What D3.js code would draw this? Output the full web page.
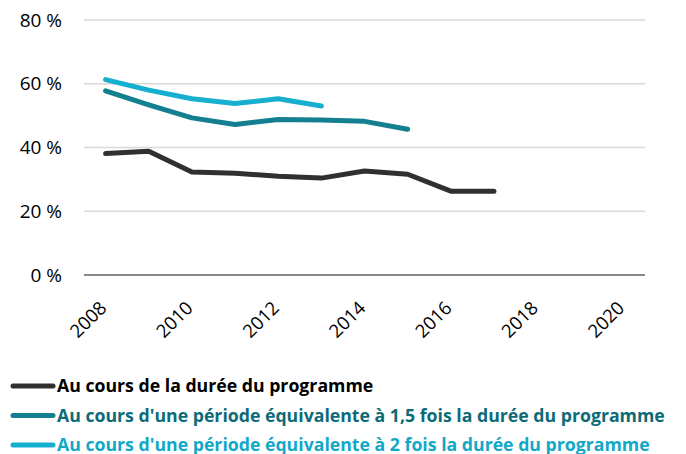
<!DOCTYPE html>
<html>
<head>
<meta charset="utf-8">
<script src="https://cdn.jsdelivr.net/npm/d3@7"></script>
<style>
body { margin: 0; background: #fff; }
svg text { font-family: "Open Sans", "Noto Sans", sans-serif; }
</style>
</head>
<body>
<svg id="chart" width="686" height="454"></svg>
<script>
// years on the category axis
var years = [2008, 2009, 2010, 2011, 2012, 2013, 2014, 2015, 2016, 2017, 2018, 2019, 2020];
var yTicks = [0, 20, 40, 60, 80];

// one array per series (percent), null = no value
var dureeProg = [38.1, 38.8, 32.3, 31.9, 31.0, 30.4, 32.6, 31.6, 26.3, 26.3, null, null, null];
var dureeX15 = [57.8, 53.4, 49.3, 47.2, 48.8, 48.6, 48.2, 45.7, null, null, null, null, null];
var dureeX2 = [61.3, 58.0, 55.3, 53.8, 55.3, 53.0, null, null, null, null, null, null, null];

var seriesNames = [
	'Au cours de la durée du programme',
	"Au cours d'une période équivalente à 1,5 fois la durée du programme",
	"Au cours d'une période équivalente à 2 fois la durée du programme"
];
var colors = ['#303030', '#137f91', '#16afcf'];
var textColors = ['#000000', '#0c6b79', '#12a8c8'];

var svg = d3.select('#chart');
var pLeft = 84, pRight = 645, pTop = 20, pBottom = 275;

var x = d3.scaleBand().domain(years).range([pLeft, pRight]);
var y = d3.scaleLinear().domain([0, 80]).range([pBottom, pTop]);

// gridlines
svg.append('g')
	.selectAll('line')
	.data(yTicks.filter(function(d){return d > 0;}))
	.enter().append('line')
	.attr('x1', pLeft).attr('x2', pRight)
	.attr('y1', function(d){return y(d);})
	.attr('y2', function(d){return y(d);})
	.style('stroke', '#d9d9d9')
	.style('stroke-width', 1.5);

// y labels
svg.append('g')
	.selectAll('text')
	.data(yTicks)
	.enter().append('text')
	.attr('x', 62)
	.attr('y', function(d){return y(d);})
	.attr('dy', '0.35em')
	.style('text-anchor', 'end')
	.style('font-size', '19px')
	.style('fill', '#000')
	.text(function(d){return d + ' %';});

// baseline
svg.append('line')
	.attr('x1', pLeft).attr('x2', pRight)
	.attr('y1', y(0)).attr('y2', y(0))
	.style('stroke', '#888888')
	.style('stroke-width', 2);

// x labels, every second year, rotated
svg.append('g')
	.selectAll('text')
	.data(years.filter(function(d){return d % 2 == 0;}))
	.enter().append('text')
	.attr('transform', function(d){
		return 'translate(' + (x(d) + x.bandwidth()/2 - 7) + ',' + 300 + ') rotate(-45)';
	})
	.attr('dy', '0.7em')
	.style('text-anchor', 'end')
	.style('font-size', '18.5px')
	.style('fill', '#000')
	.text(function(d){return d;});

var line = d3.line()
	.defined(function(d){return d != null;})
	.x(function(d, i){return x(years[i]) + x.bandwidth()/2;})
	.y(function(d){return y(d);});

var allSeries = [dureeProg, dureeX15, dureeX2];
allSeries.forEach(function(s, k) {
	svg.append('path')
		.datum(s)
		.attr('d', line)
		.style('fill', 'none')
		.style('stroke', colors[k])
		.style('stroke-width', 5)
		.style('stroke-linecap', 'round')
		.style('stroke-linejoin', 'round');
});

// legend
var legend = svg.append('g');
seriesNames.forEach(function(name, k) {
	var ly = 386 + k * 29.5;
	legend.append('line')
		.attr('x1', 13).attr('x2', 53)
		.attr('y1', ly).attr('y2', ly)
		.style('stroke', colors[k])
		.style('stroke-width', 5)
		.style('stroke-linecap', 'round');
	legend.append('text')
		.attr('x', 57)
		.attr('y', ly)
		.attr('dy', '0.35em')
		.style('font-size', '17.7px')
		.style('font-weight', 'bold')
		.style('fill', textColors[k])
		.text(name);
});
</script>
</body>
</html>
